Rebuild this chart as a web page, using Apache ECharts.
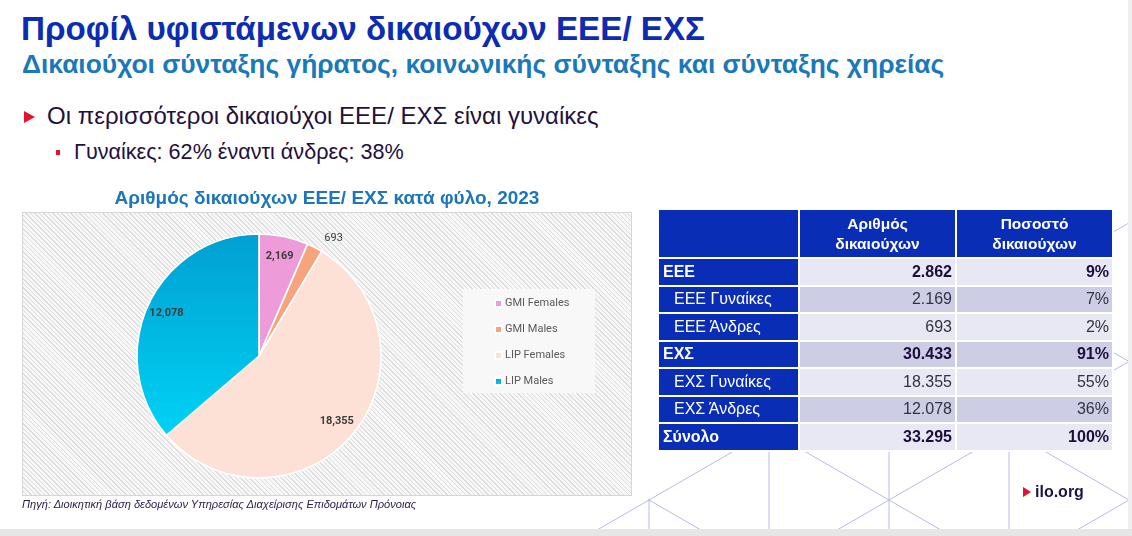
<!DOCTYPE html>
<html>
<head>
<meta charset="utf-8">
<script src="https://cdn.jsdelivr.net/npm/echarts@6/dist/echarts.min.js"></script>
<style>
  html, body { margin: 0; padding: 0; }
  body { width: 1132px; height: 536px; position: relative; overflow: hidden; background: #fff;
         font-family: "Liberation Sans", Arial, sans-serif; }
  .abs { position: absolute; white-space: nowrap; }
  #deco { position: absolute; left: 0; top: 0; }
  #panel { position: absolute; left: 22px; top: 212px; width: 610px; height: 284px; box-sizing: border-box;
           border: 1px solid #d6d6d6;
           background: repeating-linear-gradient(45deg, #f7f7f7 0px, #f7f7f7 2.2px, #dedede 2.2px, #dedede 3.2px); }
  #legendBox { position: absolute; left: 463px; top: 289px; width: 132px; height: 104px; background: #f8f8f8; }
  #chart { position: absolute; left: 0; top: 0; width: 1132px; height: 536px; }
  #bottomBand { position: absolute; left: 0; top: 529px; width: 1132px; height: 7px; background: #e6e6e6; }
  #rightBand { position: absolute; left: 1128px; top: 0; width: 4px; height: 529px; background: #efefef; }
  #tbl { position: absolute; left: 657px; top: 208px; border-collapse: collapse; table-layout: fixed; }
  #tbl td, #tbl th { border: 2px solid #fff; padding: 0; font-size: 16px; }
  #tbl th { background: #0a2db6; color: #fff; font-weight: bold; font-size: 15.5px; height: 47px; line-height: 20px; text-align: center; }
  #tbl td { height: 25.5px; }
  #tbl td.lab { background: #0a2db6; color: #fff; padding-left: 4px; }
  #tbl td.lab.sub { padding-left: 15px; }
  #tbl td.num { text-align: right; padding-right: 3px; color: #33333f; }
  #tbl tr.bold td { font-weight: bold; }
  #tbl tr.bold td.num { color: #1c0d3a; }
  #tbl tr.light td.num { background: #e8e8f4; }
  #tbl tr.dark td.num { background: #cdcde6; }
</style>
</head>
<body>
<svg id="deco" width="1132" height="536"></svg>

<div class="abs" style="left:21px; top:12px; font-size:33.2px; font-weight:bold; color:#0b2cb3; line-height:33px;">Προφίλ υφιστάμενων δικαιούχων ΕΕΕ/ ΕΧΣ</div>
<div class="abs" style="left:22px; top:51px; font-size:26.4px; font-weight:bold; color:#1a79bb; line-height:26px;">Δικαιούχοι σύνταξης γήρατος, κοινωνικής σύνταξης και σύνταξης χηρείας</div>
<div class="abs" style="left:24px; top:111px; width:0; height:0; border-top:6.5px solid transparent; border-bottom:6.5px solid transparent; border-left:11px solid #e3122d;"></div>
<div class="abs" style="left:47px; top:104px; font-size:24px; color:#22103f; line-height:24px;">Οι περισσότεροι δικαιούχοι ΕΕΕ/ ΕΧΣ είναι γυναίκες</div>
<div class="abs" style="left:56px; top:150px; width:4px; height:5px; background:#e3122d;"></div>
<div class="abs" style="left:74px; top:141px; font-size:21.6px; color:#22103f; line-height:21px;">Γυναίκες: 62% έναντι άνδρες: 38%</div>

<div id="panel"></div>
<div id="legendBox"></div>
<div id="chart"></div>

<table id="tbl"></table>

<div class="abs" style="left:22px; top:498px; font-size:11.1px; font-style:italic; color:#2a1a4e; line-height:12px;">Πηγή: Διοικητική βάση δεδομένων Υπηρεσίας Διαχείρισης Επιδομάτων Πρόνοιας</div>
<div class="abs" style="left:1023px; top:487px; width:0; height:0; border-top:5px solid transparent; border-bottom:5px solid transparent; border-left:8px solid #e3122d;"></div>
<div class="abs" style="left:1035px; top:483px; font-size:16px; font-weight:bold; color:#1e1446; line-height:18px;">ilo.org</div>

<div id="bottomBand"></div>
<div id="rightBand"></div>

<script>
// pie: beneficiaries by scheme and sex, 2023
const chartTitle = 'Αριθμός δικαιούχων ΕΕΕ/ ΕΧΣ κατά φύλο, 2023';
const sliceNames = ['GMI Females', 'GMI Males', 'LIP Females', 'LIP Males'];
const sliceValues = [2169, 693, 18355, 12078];

// table on the right
const colHeaders = ['', 'Αριθμός<br>δικαιούχων', 'Ποσοστό<br>δικαιούχων'];
const rowLabels = ['ΕΕΕ', 'ΕΕΕ Γυναίκες', 'ΕΕΕ Άνδρες', 'ΕΧΣ', 'ΕΧΣ Γυναίκες', 'ΕΧΣ Άνδρες', 'Σύνολο'];
const rowCounts = [2862, 2169, 693, 30433, 18355, 12078, 33295];
const rowShares = [9, 7, 2, 91, 55, 36, 100];
const rowIsTotal = [true, false, false, true, false, false, true];

const SLICE_COLORS = [
  '#ee9bd9',
  '#f7a47d',
  '#fde1d6',
  new echarts.graphic.LinearGradient(0, 0, 0, 1, [
    { offset: 0, color: '#00a0d1' },
    { offset: 1, color: '#00d2f5' },
  ]),
];

const groupThousands = (v, sep) => String(v).replace(/\B(?=(\d{3})+(?!\d))/g, sep);

// ── table ──
const tbl = document.getElementById('tbl');
tbl.innerHTML =
  `<colgroup><col style="width:141px"><col style="width:157px"><col style="width:157px"></colgroup>` +
  `<tr>${colHeaders.map(h => `<th>${h}</th>`).join('')}</tr>` +
  rowLabels.map((lab, i) => `
    <tr class="${rowIsTotal[i] ? 'bold' : ''} ${i % 2 === 0 ? 'light' : 'dark'}">
      <td class="lab ${rowIsTotal[i] ? '' : 'sub'}">${lab}</td>
      <td class="num">${groupThousands(rowCounts[i], '.')}</td>
      <td class="num">${rowShares[i]}%</td>
    </tr>`).join('');

// ── background lattice (lower right) ──
(function drawLattice() {
  const svg = document.getElementById('deco');
  const NS = 'http://www.w3.org/2000/svg';
  const x0 = 649, y0 = 500, step = 120, t = Math.tan(Math.PI / 6), rowStep = 2 * step * t;
  const yEdge = x => y0 - t * (x - x0) - 1;
  const defs = document.createElementNS(NS, 'defs');
  const clip = document.createElementNS(NS, 'clipPath');
  clip.setAttribute('id', 'latClip');
  const poly = document.createElementNS(NS, 'polygon');
  poly.setAttribute('points', `540,${yEdge(540)} 1140,${yEdge(1140)} 1140,540 540,540`);
  clip.appendChild(poly); defs.appendChild(clip); svg.appendChild(defs);
  const g = document.createElementNS(NS, 'g');
  g.setAttribute('clip-path', 'url(#latClip)');
  g.setAttribute('stroke', '#b7bbe2'); g.setAttribute('stroke-width', '1');
  const add = (a, b, c, d) => {
    const l = document.createElementNS(NS, 'line');
    l.setAttribute('x1', a); l.setAttribute('y1', b); l.setAttribute('x2', c); l.setAttribute('y2', d);
    g.appendChild(l);
  };
  for (let k = -1; k <= 4; k++) add(x0 + k * step, 150, x0 + k * step, 540);
  for (let n = -5; n <= 3; n++) {
    const b = y0 + n * rowStep;
    add(500, b - t * (500 - x0), 1140, b - t * (1140 - x0));
    add(500, b + t * (500 - x0), 1140, b + t * (1140 - x0));
  }
  svg.appendChild(g);
})();

// ── pie ──
const chart = echarts.init(document.getElementById('chart'));
const pieCenter = [259, 356];
const pieRadius = 122;

chart.setOption({
  animation: false,
  title: {
    text: chartTitle, left: 322, top: 184, textAlign: 'center',
    textStyle: { fontFamily: 'Liberation Sans', fontSize: 19, fontWeight: 'bold', color: '#1b76ba' },
  },
  legend: {
    orient: 'vertical', left: 489, top: 293, itemWidth: 7, itemHeight: 7, itemGap: 15,
    icon: 'rect', data: sliceNames,
    textStyle: { fontFamily: 'Roboto', fontSize: 11, color: '#595959', padding: [0, 0, 0, -2] },
  },
  series: [
    {
      type: 'pie', center: pieCenter, radius: pieRadius, startAngle: 90, clockwise: true,
      avoidLabelOverlap: false, legendHoverLink: false,
      itemStyle: { borderColor: '#fff', borderWidth: 1.6 },
      label: { show: false },
      labelLine: { show: false, length: 10, length2: 0 },
      data: sliceNames.map((name, i) => ({
        name, value: sliceValues[i],
        itemStyle: { color: SLICE_COLORS[i] },
        // the thin GMI Males slice carries its value outside the pie
        label: i === 1 ? {
          show: true, position: 'outside', distance: -5,
          formatter: p => groupThousands(p.value, ','),
          fontFamily: 'Roboto', fontSize: 11, color: '#404040',
        } : { show: false },
      })),
    },
    {
      // transparent twin: puts the inside labels near the rim like the original
      type: 'pie', center: pieCenter, radius: pieRadius * 1.62, startAngle: 90, clockwise: true,
      silent: true, avoidLabelOverlap: false, legendHoverLink: false,
      itemStyle: { color: 'rgba(0,0,0,0)' },
      labelLine: { show: false },
      label: {
        show: true, position: 'inside',
        formatter: p => groupThousands(p.value, ','),
        fontFamily: 'Roboto', fontSize: 11, fontWeight: 'bold', color: '#3c3c3c',
      },
      data: sliceNames.map((name, i) => ({
        name, value: sliceValues[i],
        label: { show: i !== 1 },
      })),
    },
  ],
});
</script>
</body>
</html>
